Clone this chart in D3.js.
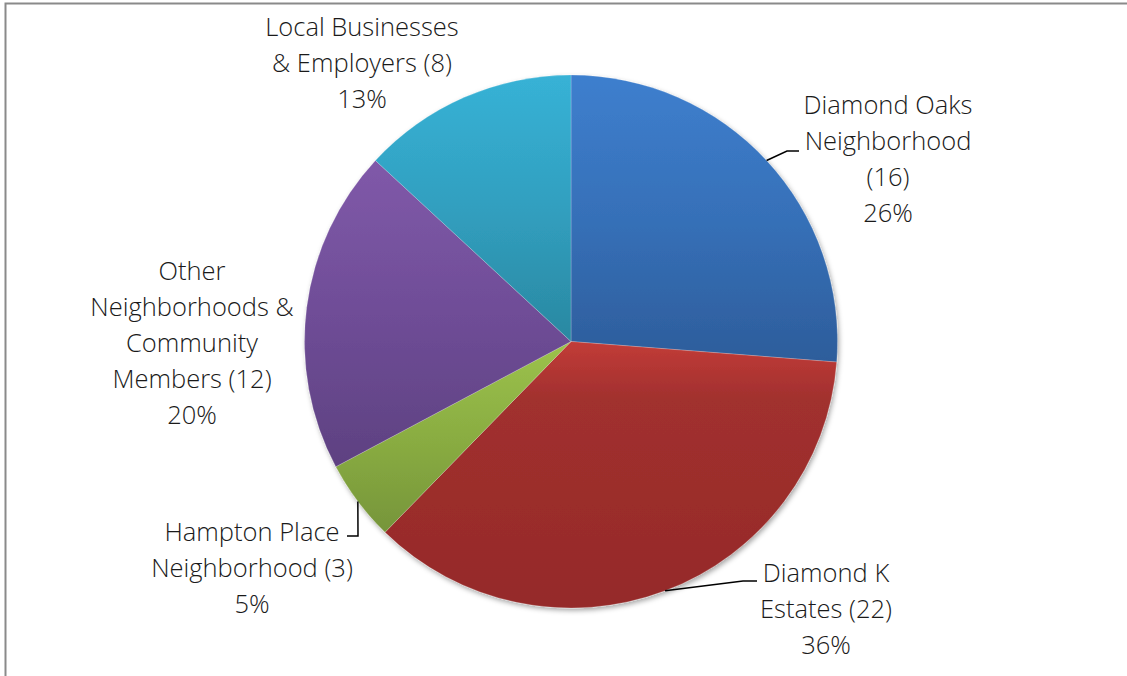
<!DOCTYPE html>
<html lang="en">
<head>
<meta charset="UTF-8">
<script src="https://d3js.org/d3.v7.min.js"></script>
<style>
  body { margin: 0; background: #fff; }
  svg text { font-family: "Open Sans", "Segoe UI", sans-serif; font-weight: 300; fill: #1a1a1a; }
</style>
<title>Pie</title>
</head>
<body>
<svg id="chart" width="1127" height="676"></svg>
<script>
// data
const categories = ["Diamond Oaks Neighborhood", "Diamond K Estates", "Hampton Place Neighborhood",
                    "Other Neighborhoods & Community Members", "Local Businesses & Employers"];
const counts = [16, 22, 3, 12, 8];
const labelLines = [
    ["Diamond Oaks", "Neighborhood", "(16)"],
    ["Diamond K", "Estates (22)"],
    ["Hampton Place", "Neighborhood (3)"],
    ["Other", "Neighborhoods &", "Community", "Members (12)"],
    ["Local Businesses", "& Employers (8)"]
];
const topColors = ["#3e7fce", "#c23c38", "#9cc24b", "#8059a9", "#37b2d6"];
const midColors = ["#3670b8", "#a1302e", "#8aad42", "#6f4d97", "#319fbf"];
const bottomColors = ["#2d5d9b", "#952a29", "#76953a", "#5e4181", "#2a88a1"];

const width = 1127, height = 676;
const cx = 571, cy = 341.5, radius = 266.5;

// label layout (center x, first line y) and leader elbows
const labelPos = [
    { x: 888, y: 105, elbow: [787, 151], end: [799, 151] },
    { x: 826, y: 573, elbow: [743, 581], end: [757, 581] },
    { x: 252, y: 532, elbow: [358, 536], end: [347, 536] },
    { x: 192, y: 271 },
    { x: 362, y: 27 }
];

const svg = d3.select("#chart");
const defs = svg.append("defs");

// frame
svg.append("path")
    .attr("d", `M5.5,${height} V3.5 H${width}`)
    .attr("fill", "none")
    .attr("stroke", "#8a8a8a")
    .attr("stroke-width", 2);

const shadow = defs.append("filter").attr("id", "shadow")
    .attr("x", "-10%").attr("y", "-10%").attr("width", "120%").attr("height", "120%");
shadow.append("feDropShadow")
    .attr("dx", 1.5).attr("dy", 2.5).attr("stdDeviation", 2.5)
    .attr("flood-color", "#000").attr("flood-opacity", 0.35);

categories.forEach((c, i) => {
    const g = defs.append("linearGradient").attr("id", "grad" + i)
        .attr("x1", 0).attr("y1", 0).attr("x2", 0).attr("y2", 1);
    g.append("stop").attr("offset", "0%").attr("stop-color", topColors[i]);
    g.append("stop").attr("offset", i == 1 ? "22%" : "50%").attr("stop-color", midColors[i]);
    g.append("stop").attr("offset", "100%").attr("stop-color", bottomColors[i]);
});

const total = d3.sum(counts);
const pie = d3.pie().sort(null).value(d => d)(counts);
const arc = d3.arc().innerRadius(0).outerRadius(radius);
const outerArc = d3.arc().innerRadius(radius).outerRadius(radius);

const g = svg.append("g").attr("transform", `translate(${cx},${cy})`);

g.append("g").attr("filter", "url(#shadow)")
    .selectAll("path.slice")
    .data(pie)
    .enter().append("path")
    .attr("class", "slice")
    .attr("d", arc)
    .attr("fill", (d, i) => `url(#grad${i})`)
    .attr("stroke", "rgba(255,255,255,0.35)")
    .attr("stroke-width", 0.6);

// leader lines
const line = d3.line();
pie.forEach((d, i) => {
    const p = labelPos[i];
    if (!p.elbow) return;
    const start = outerArc.centroid(d);
    svg.append("path")
        .attr("d", line([[start[0] + cx, start[1] + cy], p.elbow, p.end]))
        .attr("fill", "none")
        .attr("stroke", "#000")
        .attr("stroke-width", 1.5);
});

// labels
const fmt = d3.format(".0%");
const lineH = 36;
pie.forEach((d, i) => {
    const p = labelPos[i];
    const lines = labelLines[i].concat([fmt(counts[i] / total)]);
    const t = svg.append("text")
        .attr("text-anchor", "middle")
        .style("font-size", "25.5px");
    lines.forEach((s, k) => {
        t.append("tspan")
            .attr("x", p.x)
            .attr("y", p.y + k * lineH)
            .attr("dy", "0.35em")
            .text(s);
    });
});
</script>
</body>
</html>
